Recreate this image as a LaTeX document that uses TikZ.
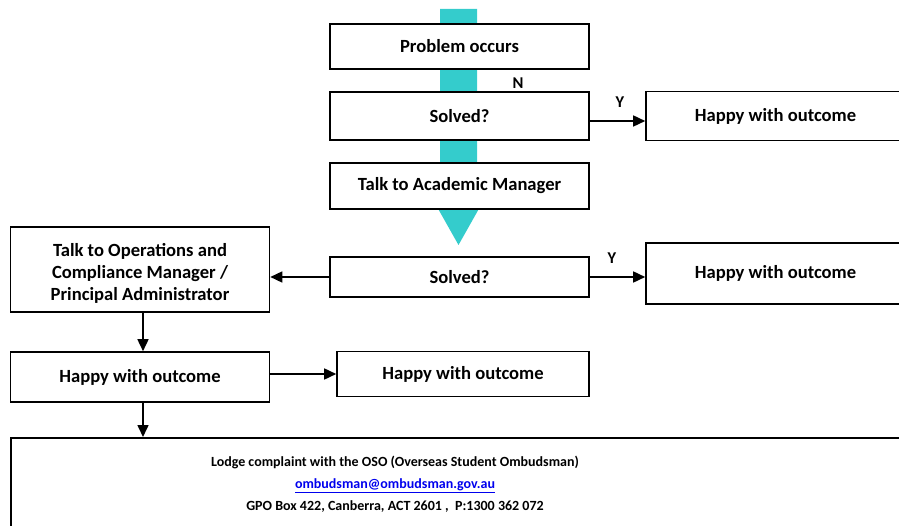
\documentclass[tikz,border=0pt]{standalone}
\usepackage{fontspec}
\setmainfont{Carlito}
\usetikzlibrary{arrows.meta}
\definecolor{teal1}{RGB}{52,204,204}
\definecolor{linkblue}{RGB}{0,0,238}
\tikzset{
  box/.style={draw=black, line width=1.6pt, fill=white, inner sep=0pt, align=center,
    font=\bfseries\fontsize{18.6}{22}\selectfont},
  conn/.style={line width=1.6pt, -{Triangle[length=12pt,width=11pt]}},
  lbl/.style={font=\bfseries\fontsize{16.5}{18}\selectfont, inner sep=0pt},
}
\begin{document}
\begin{tikzpicture}[x=1pt,y=-1pt]
\useasboundingbox (0,0) rectangle (899,526);
\clip (0,0) rectangle (899,526);
% teal arrow behind
\fill[teal1] (440,9) -- (477,9) -- (477,190) -- (489.5,190) -- (458.5,245) -- (427.5,190) -- (440,190) -- cycle;
% boxes
\node[box, minimum width=259pt, minimum height=45pt] (p) at (459.5,46.5) {Problem occurs};
\node[box, minimum width=259pt, minimum height=48pt] (s1) at (459.5,116) {Solved?};
\node[box, minimum width=259pt, minimum height=46pt] (am) at (459.5,186) {Talk to Academic Manager};
\node[box, minimum width=259pt, minimum height=49pt] (h1) at (775.5,116) {Happy with outcome};
\node[box, minimum width=259pt, minimum height=40pt] (s2) at (459.5,277) {\raisebox{-3pt}{Solved?}};
\node[box, minimum width=259pt, minimum height=61pt] (h2) at (775.5,273.5) {Happy with outcome};
\node[box, minimum width=259pt, minimum height=85pt] (ops) at (140,269.5) {};
\begin{scope}
\clip (12,229) rectangle (268,303);
\node[align=center, font=\bfseries\fontsize{18.6}{22}\selectfont, inner sep=0pt] (opstext) at (140,273) {Talk to Operations and\\Compliance Manager /\\Principal Administrator};
\end{scope}
\node[box, minimum width=259pt, minimum height=50pt] (h3) at (140,377) {Happy with outcome};
\node[box, minimum width=252pt, minimum height=45pt] (h4) at (463,374) {Happy with outcome};
\node[box, minimum width=930pt, minimum height=120pt, anchor=north west] (oso) at (10,437) {};
\node[align=center, font=\bfseries\fontsize{14}{22}\selectfont, inner sep=0pt] (osotext) at (395,484)
  {Lodge complaint with the OSO (Overseas Student Ombudsman)\\
   \textcolor{linkblue}{\underline{ombudsman@ombudsman.gov.au}}\\
   GPO Box 422, Canberra, ACT 2601 ,\ \ P:1300 362 072};
% labels
\node[lbl] (n) at (518,83) {N};
\node[lbl] (y1) at (620,102) {Y};
\node[lbl] (y2) at (612,258) {Y};
% connectors
\draw[conn] ([yshift=-5pt]s1.east) -- ([yshift=-5pt]h1.west);
\draw[conn] (s2.east) -- (h2.west |- s2.east);
\draw[conn] (s2.west) -- (ops.east |- s2.west);
\draw[conn] ([xshift=3pt]ops.south) -- ([xshift=3pt]h3.north);
\draw[conn] (h3.east |- h4.west) -- (h4.west);
\draw[conn] ([xshift=3pt]h3.south) -- ([xshift=3pt]h3.south |- oso.north);
\end{tikzpicture}
\end{document}
